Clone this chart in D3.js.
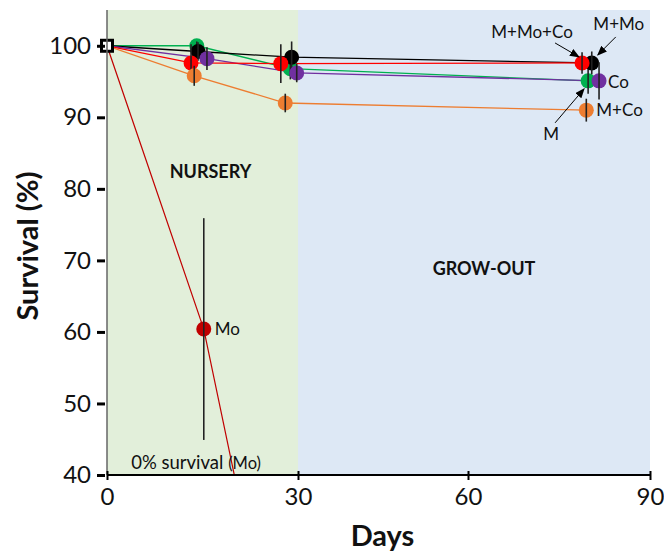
<!DOCTYPE html>
<html>
<head>
<meta charset="utf-8">
<script src="https://cdn.jsdelivr.net/npm/d3@7"></script>
<style>
  body { margin: 0; background: #fff; }
  svg text { font-family: Lato, "Open Sans", sans-serif; fill: #111; }
</style>
</head>
<body>
<div id="chart"></div>
<script>
"use strict";

// survival data
const seriesNames = ["M", "M+Mo", "M+Mo+Co", "Co", "M+Co", "Mo"];
const daysM = [0, 14.1, 28.8, 79.8];
const survM = [100, 100, 96.8, 95.1];
const errM = [0, 0.6, 1.5, 1.8];
const daysMMo = [0, 14.3, 29.0, 80.4];
const survMMo = [100, 99.2, 98.4, 97.6];
const errMMo = [0, 1.3, 2.2, 1.6];
const daysMMoCo = [0, 13.2, 27.3, 78.8];
const survMMoCo = [100, 97.6, 97.5, 97.6];
const errMMoCo = [0, 2.6, 2.7, 1.5];
const daysCo = [0, 15.7, 29.8, 81.6];
const survCo = [100, 98.2, 96.2, 95.1];
const errCo = [0, 1.6, 1.3, 2.6];
const daysMCo = [0, 13.7, 28.0, 79.5];
const survMCo = [100, 95.8, 92.0, 91.0];
const errMCo = [0, 1.4, 1.3, 1.6];
const daysMo = [0, 15.2, 29.4];
const survMo = [100, 60.4, 0];
const errMo = [0, 15.5, 0];

const xTicks = [0, 30, 60, 90];
const yTicks = [40, 50, 60, 70, 80, 90, 100];
const phases = [{name: "NURSERY", from: 0, to: 30}, {name: "GROW-OUT", from: 30, to: 90}];

const colors = {"M": "#00b050", "M+Mo": "#000000", "M+Mo+Co": "#ff0000", "Co": "#7030a0", "M+Co": "#ed7d31", "Mo": "#c00000"};
const phaseFill = {"NURSERY": "#e2efda", "GROW-OUT": "#dde8f5"};

const rawDays = [daysM, daysMMo, daysMMoCo, daysCo, daysMCo, daysMo];
const rawSurv = [survM, survMMo, survMMoCo, survCo, survMCo, survMo];
const rawErr = [errM, errMMo, errMMoCo, errCo, errMCo, errMo];
const series = seriesNames.map((n, i) => ({
  name: n,
  pts: rawDays[i].map((d, j) => ({x: d, y: rawSurv[i][j], e: rawErr[i][j]}))
}));

const W = 664, H = 553;
const svg = d3.select("#chart").append("svg").attr("width", W).attr("height", H);

// the original x axis is not evenly spaced, so follow it piecewise
const x = d3.scaleLinear().domain(xTicks).range([107, 298, 468, 650]);
const y = d3.scaleLinear().domain([40, 105]).range([475, 10]);

svg.append("defs").append("clipPath").attr("id", "plotclip")
  .append("rect").attr("x", x(0)).attr("y", y(105)).attr("width", x(90) - x(0)).attr("height", y(40) - y(105));
svg.select("defs").append("marker").attr("id", "arrow").attr("orient", "auto")
  .attr("markerWidth", 10).attr("markerHeight", 8).attr("refX", 9).attr("refY", 4)
  .attr("markerUnits", "userSpaceOnUse")
  .append("path").attr("d", "M0,0 L10,4 L0,8 Z").attr("fill", "#000");

// phase backgrounds
svg.append("g").selectAll("rect").data(phases).join("rect")
  .attr("x", d => x(d.from)).attr("y", y(105))
  .attr("width", d => x(d.to) - x(d.from)).attr("height", y(40) - y(105))
  .attr("fill", d => phaseFill[d.name]);

svg.append("text").attr("x", (x(0) + x(30)) / 2 + 8).attr("y", y(81.5))
  .attr("text-anchor", "middle").attr("font-weight", "bold").attr("font-size", 18).text("NURSERY");
svg.append("text").attr("x", (x(30) + x(90)) / 2 + 10).attr("y", y(68)).attr("text-anchor", "middle")
  .attr("font-weight", "bold").attr("font-size", 18).text("GROW-OUT");

const plot = svg.append("g").attr("clip-path", "url(#plotclip)");
const line = d3.line().x(d => x(d.x)).y(d => y(d.y));

const drawOrder = ["Mo", "M", "M+Mo", "Co", "M+Mo+Co", "M+Co"];
const ordered = drawOrder.map(n => series.find(s => s.name === n));

plot.selectAll("path.series").data(ordered).join("path").attr("class", "series")
  .attr("d", d => line(d.pts)).attr("fill", "none")
  .attr("stroke", d => colors[d.name]).attr("stroke-width", d => d.name === "Mo" ? 1.2 : 1.3);

ordered.forEach(s => {
  const pts = s.pts.filter(p => p.x > 0 && p.y > 0);
  const g = plot.append("g");
  g.selectAll("circle").data(pts).join("circle")
    .attr("cx", p => x(p.x)).attr("cy", p => y(p.y)).attr("r", 7.5)
    .attr("fill", colors[s.name]);
  g.selectAll("line").data(pts).join("line")
    .attr("x1", p => x(p.x)).attr("x2", p => x(p.x))
    .attr("y1", p => y(p.y + p.e)).attr("y2", p => y(p.y - p.e))
    .attr("stroke", "#222").attr("stroke-width", 1.6);
});

// start point
svg.append("rect").attr("x", x(0) - 5.5).attr("y", y(100) - 5.5).attr("width", 11).attr("height", 11)
  .attr("fill", "#fff").attr("stroke", "#000").attr("stroke-width", 3);

// axes
svg.append("line").attr("x1", x(0)).attr("x2", x(0)).attr("y1", y(105)).attr("y2", y(40))
  .attr("stroke", "#666").attr("stroke-width", 1.5);
svg.append("line").attr("x1", x(0)).attr("x2", x(90)).attr("y1", y(40)).attr("y2", y(40))
  .attr("stroke", "#000").attr("stroke-width", 2);

const yAxis = svg.append("g").attr("transform", `translate(${x(0) - 2},0)`)
  .call(d3.axisLeft(y).tickValues(yTicks).tickSize(8).tickPadding(6));
yAxis.select(".domain").remove();
yAxis.selectAll(".tick line").attr("stroke", "#000").attr("stroke-width", 3);
yAxis.selectAll(".tick text").attr("font-size", 24).attr("font-family", "Lato").attr("fill", "#111");

const xAxis = svg.append("g").attr("transform", `translate(0,${y(40) - 4})`)
  .call(d3.axisBottom(x).tickValues(xTicks).tickSize(9).tickPadding(8));
xAxis.select(".domain").remove();
xAxis.selectAll(".tick line").attr("stroke", "#000").attr("stroke-width", 2);
xAxis.selectAll(".tick text").attr("font-size", 24).attr("font-family", "Lato").attr("fill", "#111");

svg.append("text").attr("x", (x(0) + x(90)) / 2 + 4).attr("y", 546).attr("text-anchor", "middle")
  .attr("font-weight", "bold").attr("font-size", 29).text("Days");
svg.append("text").attr("transform", `translate(38,${y(72)}) rotate(-90)`).attr("text-anchor", "middle")
  .attr("font-weight", "bold").attr("font-size", 29).text("Survival (%)");

// labels and arrows
const pt = (name, k) => series.find(s => s.name === name).pts[k];
const lab = (txt, px, py, anchor) => svg.append("text").attr("x", px).attr("y", py)
  .attr("text-anchor", anchor || "start").attr("font-size", 17).text(txt);

const mo = pt("Mo", 1);
lab("Mo", x(mo.x) + 11, y(mo.y) + 6);
const t0 = svg.append("text").attr("x", x(3.8)).attr("y", y(40) - 6).attr("font-size", 18.5);
t0.append("tspan").text("0% survival ");
t0.append("tspan").attr("font-size", 16.5).text("(Mo)");

const mco = pt("M+Co", 3), co = pt("Co", 3), mm = pt("M", 3), mmo = pt("M+Mo", 3), mmoco = pt("M+Mo+Co", 3);
lab("M+Co", x(mco.x) + 10, y(mco.y) + 6);
lab("Co", x(co.x) + 9, y(co.y) + 7);
lab("M+Mo+Co", x(mmoco.x) - 50, y(mmoco.y) - 25, "middle");
lab("M+Mo", x(mmo.x) + 27, y(mmo.y) - 33, "middle");
lab("M", x(mm.x) - 37, y(mm.y) + 59, "middle");

const arrow = (x1, y1, x2, y2) => svg.append("line").attr("x1", x1).attr("y1", y1).attr("x2", x2).attr("y2", y2)
  .attr("stroke", "#000").attr("stroke-width", 1).attr("marker-end", "url(#arrow)");
arrow(x(mmoco.x) - 27, y(mmoco.y) - 20, x(mmoco.x) - 3, y(mmoco.y) - 6);
arrow(x(mmo.x) + 24, y(mmo.y) - 26, x(mmo.x) + 6, y(mmo.y) - 8);
arrow(x(mm.x) - 33, y(mm.y) + 42, x(mm.x) - 4, y(mm.y) + 8);
</script>
</body>
</html>
